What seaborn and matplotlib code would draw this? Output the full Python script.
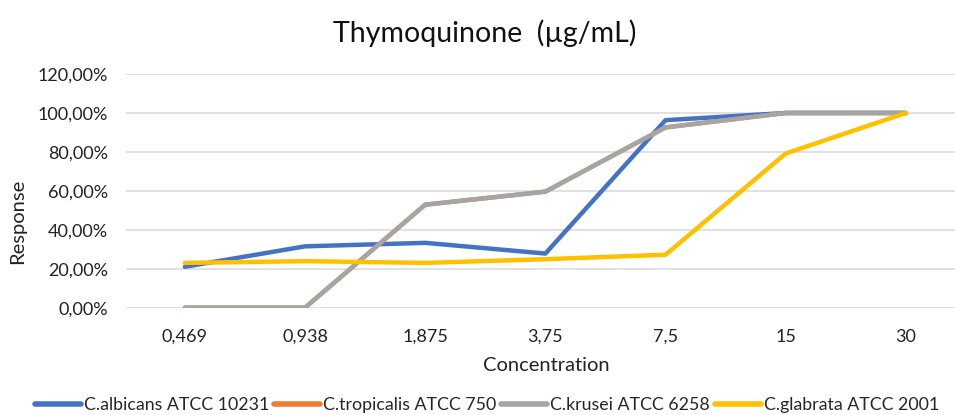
import pandas as pd
import seaborn as sns
import matplotlib.pyplot as plt
from matplotlib.ticker import FuncFormatter

# Concentrations (µg/mL) shown as category labels
concentrations = ["0,469", "0,938", "1,875", "3,75", "7,5", "15", "30"]

# Response values (%)
albicans = [21.0, 31.5, 33.3, 27.8, 96.3, 100.0, 100.0]
tropicalis = [0.0, 0.0, 52.9, 59.6, 92.6, 100.0, 100.0]
krusei = [0.0, 0.0, 52.9, 59.6, 92.6, 100.0, 100.0]
glabrata = [23.0, 23.9, 23.0, 24.9, 27.2, 79.2, 100.0]

series_names = ["C.albicans ATCC 10231", "C.tropicalis ATCC 750",
                "C.krusei ATCC 6258", "C.glabrata ATCC 2001"]
series_values = [albicans, tropicalis, krusei, glabrata]
colors = ["#4472C4", "#ED7D31", "#A5A5A5", "#FFC000"]


def main():
    rows = []
    for name, values in zip(series_names, series_values):
        for i, v in enumerate(values):
            rows.append({"idx": i, "Response": v, "Strain": name})
    df = pd.DataFrame(rows)

    sns.set_theme(style="white")
    plt.rcParams["font.family"] = ["Lato", "DejaVu Sans"]

    fig = plt.figure(figsize=(9.55, 4.15), dpi=100)
    ax = fig.add_axes([0.1319, 0.2586, 0.8796, 0.563])

    sns.lineplot(data=df, x="idx", y="Response", hue="Strain",
                 hue_order=series_names, palette=colors, linewidth=3.2,
                 ax=ax, legend=True)

    ax.set_xlim(-0.49, 6.5)
    ax.set_ylim(0, 120)
    ax.set_yticks(range(0, 121, 20))
    ax.yaxis.set_major_formatter(FuncFormatter(lambda v, p: f"{v:.2f}%".replace(".", ",")))
    ax.set_xticks(range(len(concentrations)))
    ax.set_xticklabels(concentrations)
    ax.grid(axis="y", color="#D9D9D9", linewidth=1.1)
    ax.set_axisbelow(True)
    for s in ax.spines.values():
        s.set_visible(False)
    ax.tick_params(axis="both", length=0, labelsize=13, colors="#222222")
    ax.tick_params(axis="y", pad=13)
    ax.tick_params(axis="x", pad=15)

    ax.set_xlabel("Concentration", fontsize=14.5, color="#222222", va="center")
    ax.xaxis.set_label_coords(0.5, -0.249)
    ax.set_ylabel("Response", fontsize=14.5, color="#222222", va="center")
    ax.yaxis.set_label_coords(-0.1286, 0.371)
    fig.text(0.508, 0.92, "Thymoquinone  (µg/mL)", ha="center", va="center",
             fontsize=20.5, color="#111111")

    # legend below the plot, one row
    handles, labels = ax.get_legend_handles_labels()
    ax.get_legend().remove()
    leg = fig.legend(handles, labels, loc="center", bbox_to_anchor=(0.51, 0.024),
                     ncol=4, frameon=False, fontsize=12.8, handlelength=2.6,
                     columnspacing=0.25, handletextpad=0.17, borderpad=0)
    for line in leg.get_lines():
        line.set_linewidth(4)

    fig.savefig("out.png", dpi=100)


if __name__ == "__main__":
    main()
